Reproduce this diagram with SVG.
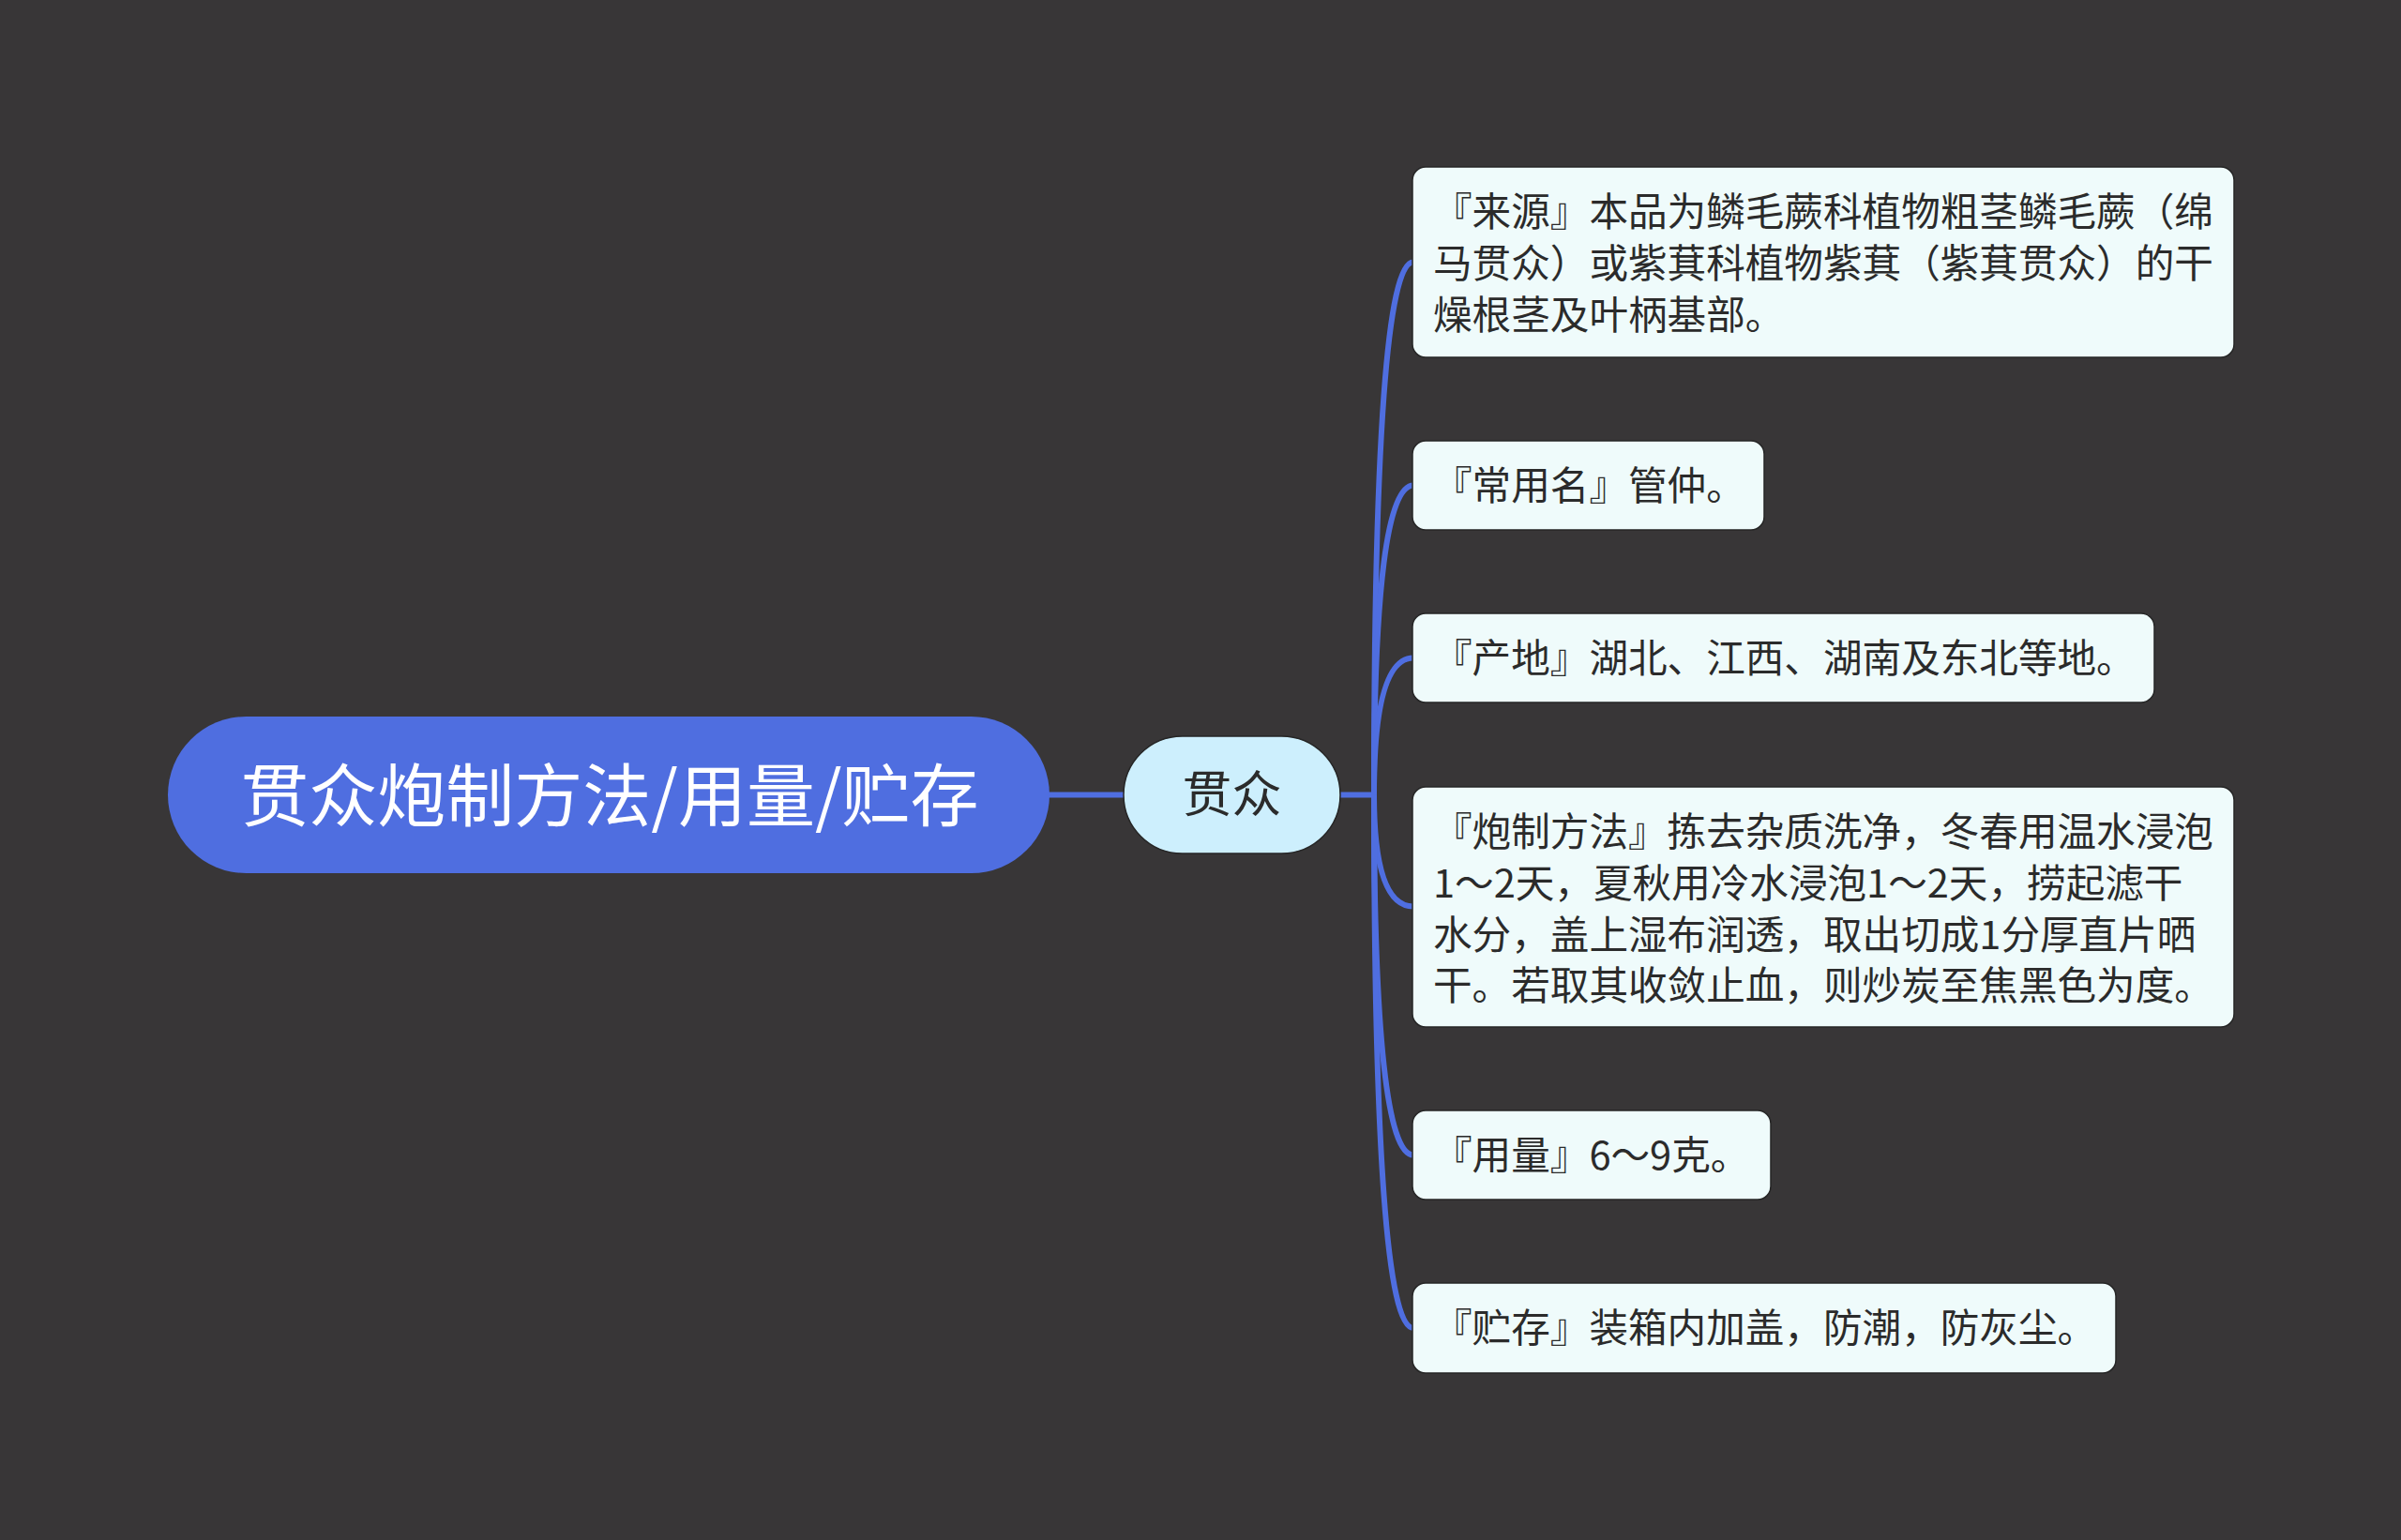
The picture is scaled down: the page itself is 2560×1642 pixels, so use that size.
<svg xmlns="http://www.w3.org/2000/svg" width="2560" height="1642" viewBox="0 0 2560 1642">
<style>
.bg{fill:#383637}
.conn{fill:none;stroke:#4f6ee0;stroke-width:6}
.root{fill:#4f6ee0}
.rootText{font-family:"Noto Sans CJK SC","Noto Sans",sans-serif;font-size:73px;fill:#ffffff;text-anchor:middle}
.sub{fill:#cdeffd;stroke:#262626;stroke-width:1.5}
.subText{font-family:"Noto Sans CJK SC","Noto Sans",sans-serif;font-size:53px;fill:#2b2b2b;text-anchor:middle}
.leaf{fill:#effbfb;stroke:#262626;stroke-width:1.5}
.leafText{font-family:"Noto Sans CJK SC","Noto Sans",sans-serif;font-size:41.6px;fill:#2b2b2b}
</style>
<rect class="bg" x="0" y="0" width="2560" height="1642"/>
<g id="connectors">
<path class="conn" d="M1118,847.5 H1199"/>
<path class="conn" d="M1428,847.5 H1466"/>
<path class="conn" d="M1465,847.5 Q1465,279.5 1507,279.5"/>
<path class="conn" d="M1465,847.5 Q1465,517.5 1507,517.5"/>
<path class="conn" d="M1465,847.5 Q1465,701.5 1507,701.5"/>
<path class="conn" d="M1465,847.5 Q1465,966.5 1507,966.5"/>
<path class="conn" d="M1465,847.5 Q1465,1231.5 1507,1231.5"/>
<path class="conn" d="M1465,847.5 Q1465,1416 1507,1416"/>
</g>
<g id="root">
<rect class="root" x="179" y="764" width="940" height="167" rx="83.5"/>
<text class="rootText" x="650" y="875">贯众炮制方法/用量/贮存</text>
</g>
<g id="sub">
<rect class="sub" x="1198" y="785" width="231" height="125" rx="62.5"/>
<text class="subText" x="1313.5" y="866">贯众</text>
</g>
<g id="leaf1">
<rect class="leaf" x="1506" y="178" width="876" height="203" rx="14"/>
<text class="leafText" x="1528" y="241.3">『来源』本品为鳞毛蕨科植物粗茎鳞毛蕨（绵</text>
<text class="leafText" x="1528" y="295.9">马贯众）或紫萁科植物紫萁（紫萁贯众）的干</text>
<text class="leafText" x="1528" y="350.5">燥根茎及叶柄基部。</text>
</g>
<g id="leaf2">
<rect class="leaf" x="1506" y="470" width="375" height="95" rx="14"/>
<text class="leafText" x="1528" y="533.3">『常用名』管仲。</text>
</g>
<g id="leaf3">
<rect class="leaf" x="1506" y="654" width="791" height="95" rx="14"/>
<text class="leafText" x="1528" y="717.3">『产地』湖北、江西、湖南及东北等地。</text>
</g>
<g id="leaf4">
<rect class="leaf" x="1506" y="839" width="876" height="256" rx="14"/>
<text class="leafText" x="1528" y="902.3">『炮制方法』拣去杂质洗净，冬春用温水浸泡</text>
<text class="leafText" x="1528" y="956.9">1～2天，夏秋用冷水浸泡1～2天，捞起滤干</text>
<text class="leafText" x="1528" y="1011.5">水分，盖上湿布润透，取出切成1分厚直片晒</text>
<text class="leafText" x="1528" y="1066.1">干。若取其收敛止血，则炒炭至焦黑色为度。</text>
</g>
<g id="leaf5">
<rect class="leaf" x="1506" y="1184" width="382" height="95" rx="14"/>
<text class="leafText" x="1528" y="1247.3">『用量』6～9克。</text>
</g>
<g id="leaf6">
<rect class="leaf" x="1506" y="1368" width="750" height="96" rx="14"/>
<text class="leafText" x="1528" y="1431.3">『贮存』装箱内加盖，防潮，防灰尘。</text>
</g>
</svg>
